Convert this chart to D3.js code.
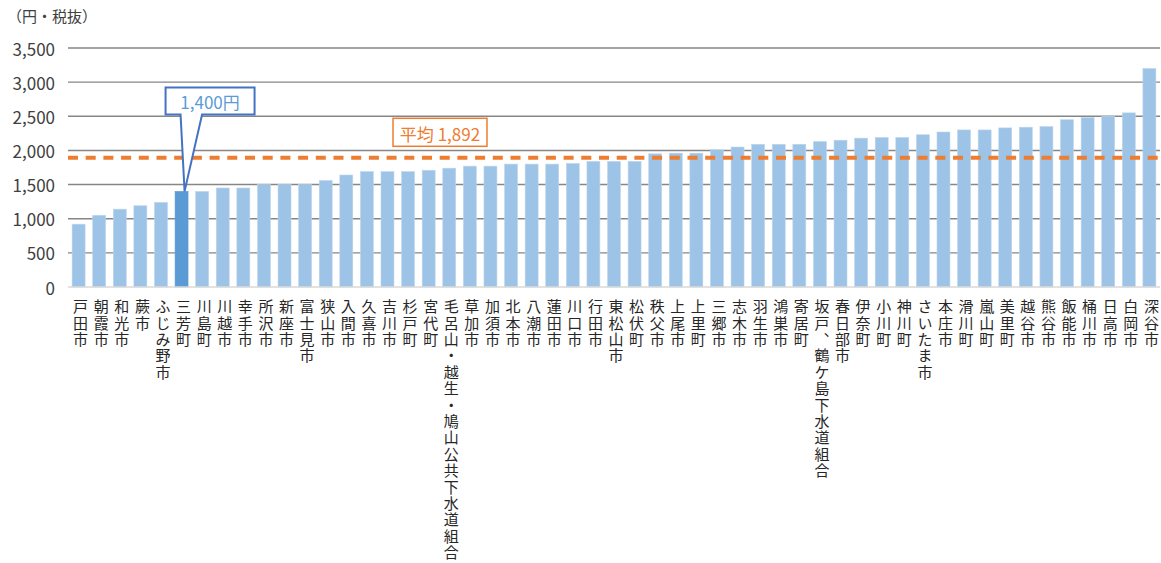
<!DOCTYPE html>
<html lang="ja">
<head>
<meta charset="utf-8">
<script src="https://cdn.jsdelivr.net/npm/d3@7"></script>
<style>
  html, body { margin: 0; padding: 0; background: #fff; }
  svg { display: block; font-family: "Noto Sans CJK JP", "Noto Sans", sans-serif; }
</style>
</head>
<body>
<svg id="chart" width="1161" height="563"></svg>
<script>
// 下水道使用料（円・税抜）
const categories = [
  "戸田市", "朝霞市", "和光市", "蕨市", "ふじみ野市", "三芳町", "川島町", "川越市",
  "幸手市", "所沢市", "新座市", "富士見市", "狭山市", "入間市", "久喜市", "吉川市",
  "杉戸町", "宮代町", "毛呂山・越生・鳩山公共下水道組合", "草加市", "加須市", "北本市",
  "八潮市", "蓮田市", "川口市", "行田市", "東松山市", "松伏町", "秩父市", "上尾市",
  "上里町", "三郷市", "志木市", "羽生市", "鴻巣市", "寄居町", "坂戸、鶴ケ島下水道組合",
  "春日部市", "伊奈町", "小川町", "神川町", "さいたま市", "本庄市", "滑川町", "嵐山町",
  "美里町", "越谷市", "熊谷市", "飯能市", "桶川市", "日高市", "白岡市", "深谷市"
];
const values = [
  920, 1050, 1140, 1190, 1240, 1400, 1400, 1450,
  1450, 1500, 1500, 1500, 1560, 1640, 1690, 1690,
  1690, 1710, 1740, 1770, 1770, 1800,
  1800, 1800, 1810, 1840, 1840, 1840, 1950, 1960,
  1960, 2010, 2050, 2090, 2090, 2090, 2130,
  2150, 2180, 2190, 2190, 2230, 2270, 2300, 2300,
  2330, 2340, 2350, 2450, 2480, 2500, 2550, 3200
];
const yTicks = [0, 500, 1000, 1500, 2000, 2500, 3000, 3500];
const unitLabel = "（円・税抜）";
const highlightName = "三芳町";
const highlightValue = 1400;
const highlightLabel = "1,400円";
const averageValue = 1892;
const averageLabel = "平均 1,892";

const svg = d3.select("#chart");
const plot = { left: 68, right: 1160, top: 48, bottom: 287 };

const x = d3.scaleBand()
  .domain(categories)
  .range([plot.left, plot.right])
  .paddingInner(0.37)
  .paddingOuter(0.2);

const y = d3.scaleLinear()
  .domain([0, 3500])
  .range([plot.bottom, plot.top]);

const fmt = d3.format(",");

// 目盛線
svg.append("g")
  .selectAll("line")
  .data(yTicks.filter(d => d > 0))
  .join("line")
  .attr("x1", plot.left)
  .attr("x2", plot.right)
  .attr("y1", d => y(d))
  .attr("y2", d => y(d))
  .attr("stroke", "#868686")
  .attr("stroke-width", 1.4);

// 縦軸ラベル
svg.append("g")
  .selectAll("text")
  .data(yTicks)
  .join("text")
  .attr("x", 55)
  .attr("y", d => y(d))
  .attr("text-anchor", "end")
  .attr("dominant-baseline", "central")
  .attr("font-size", 17)
  .attr("fill", "#404040")
  .text(d => fmt(d));

svg.append("text")
  .attr("x", 7)
  .attr("y", 22)
  .attr("font-size", 15)
  .attr("fill", "#404040")
  .text(unitLabel);

// 棒
svg.append("g")
  .selectAll("rect")
  .data(categories.map((c, i) => ({ name: c, value: values[i] })))
  .join("rect")
  .attr("x", d => x(d.name))
  .attr("width", x.bandwidth())
  .attr("y", d => y(d.value))
  .attr("height", d => y(0) - y(d.value))
  .attr("fill", d => d.name === highlightName ? "#5B9BD5" : "#9DC3E6")
  .attr("stroke", d => d.name === highlightName ? "#5B9BD5" : "#BDD7EE")
  .attr("stroke-width", 0.6);

// 横軸線
svg.append("line")
  .attr("x1", plot.left)
  .attr("x2", plot.right)
  .attr("y1", y(0))
  .attr("y2", y(0))
  .attr("stroke", "#D9D9D9")
  .attr("stroke-width", 1.5);

// 横軸ラベル（縦書き）
svg.append("g")
  .selectAll("text")
  .data(categories)
  .join("text")
  .attr("x", d => x(d) + x.bandwidth() / 2 + 2)
  .attr("y", 299)
  .attr("font-size", 15)
  .attr("fill", "#262626")
  .style("writing-mode", "vertical-rl")
  .style("text-orientation", "upright")
  .style("letter-spacing", "1.4px")
  .text(d => d);

// 平均線
svg.append("line")
  .attr("x1", plot.left)
  .attr("x2", 1161)
  .attr("y1", y(averageValue))
  .attr("y2", y(averageValue))
  .attr("stroke", "#ED7D31")
  .attr("stroke-width", 4)
  .attr("stroke-dasharray", "10 7.7");

const avgBox = { x: 393, y: y(averageValue) - 39.5, w: 94, h: 28 };
svg.append("rect")
  .attr("x", avgBox.x)
  .attr("y", avgBox.y)
  .attr("width", avgBox.w)
  .attr("height", avgBox.h)
  .attr("fill", "#fff")
  .attr("stroke", "#ED7D31")
  .attr("stroke-width", 1.5);
svg.append("text")
  .attr("x", avgBox.x + avgBox.w / 2)
  .attr("y", avgBox.y + avgBox.h / 2 + 1)
  .attr("text-anchor", "middle")
  .attr("dominant-baseline", "central")
  .attr("font-size", 17)
  .attr("fill", "#ED7D31")
  .text(averageLabel);

// 吹き出し
const tipX = x(highlightName) + x.bandwidth() / 2 + 3;
const tipY = y(highlightValue);
const box = { x: tipX - 19, y: 87.5, w: 89, h: 27 };
const w1 = box.x + 15, w2 = box.x + 36.5;
const calloutPath = d3.path();
calloutPath.moveTo(box.x, box.y);
calloutPath.lineTo(box.x + box.w, box.y);
calloutPath.lineTo(box.x + box.w, box.y + box.h);
calloutPath.lineTo(w2, box.y + box.h);
calloutPath.lineTo(tipX, tipY);
calloutPath.lineTo(w1, box.y + box.h);
calloutPath.lineTo(box.x, box.y + box.h);
calloutPath.closePath();
svg.append("path")
  .attr("d", calloutPath.toString())
  .attr("fill", "#fff")
  .attr("stroke", "#4472C4")
  .attr("stroke-width", 2)
  .attr("stroke-linejoin", "miter");
svg.append("text")
  .attr("x", box.x + box.w / 2)
  .attr("y", box.y + box.h / 2)
  .attr("text-anchor", "middle")
  .attr("dominant-baseline", "central")
  .attr("font-size", 17)
  .attr("fill", "#5B9BD5")
  .text(highlightLabel);
</script>
</body>
</html>
